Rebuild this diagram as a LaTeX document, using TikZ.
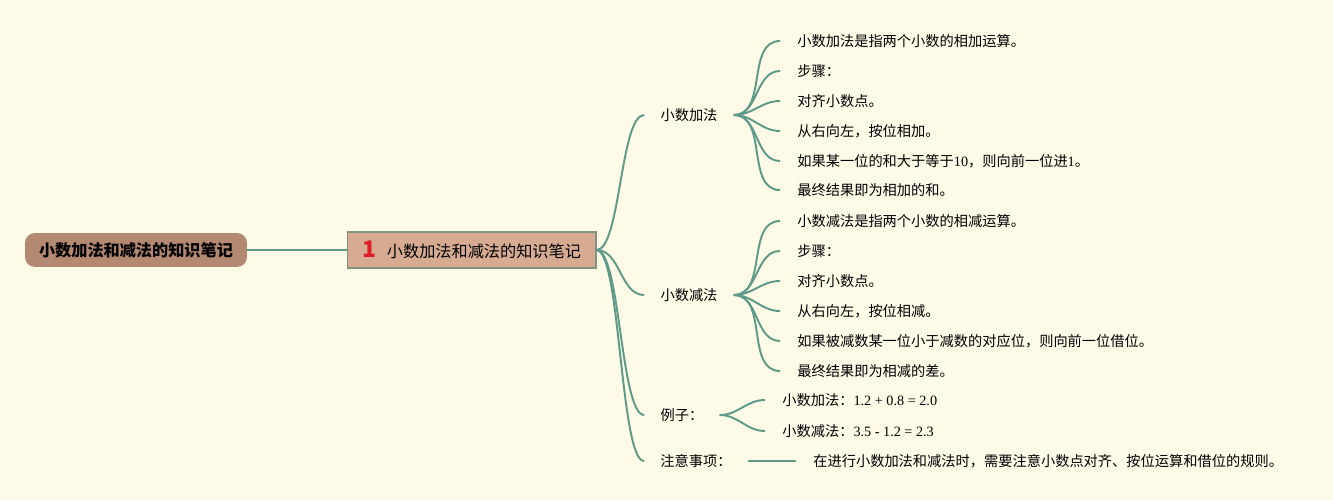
\documentclass[tikz,border=0pt]{standalone}
\usepackage{fontspec}
\setmainfont{Noto Sans CJK SC}
\newfontfamily\numfont{Liberation Serif}
\usepackage{tikz}
\usetikzlibrary{positioning}
\definecolor{paper}{RGB}{254,250,232}
\definecolor{rootBrown}{RGB}{180,137,113}
\definecolor{topicTan}{RGB}{214,171,146}
\definecolor{topicEdge}{RGB}{128,148,132}
\definecolor{branchTeal}{RGB}{94,154,136}
\definecolor{numRed}{RGB}{222,30,40}
\tikzset{
  root/.style={fill=rootBrown,rounded corners=0.2cm,minimum width=4.44cm,minimum height=0.68cm,
               font=\fontsize{9.2}{11}\selectfont\bfseries,inner sep=0pt},
  topic/.style={fill=topicTan,draw=topicEdge,line width=0.6pt,minimum width=4.98cm,
                minimum height=0.72cm,font=\fontsize{9.2}{11}\selectfont,inner sep=0pt},
  branch/.style={font=\fontsize{8.1}{10}\selectfont,inner xsep=0.32cm,inner ysep=2pt},
  leaf/.style={font=\fontsize{8.1}{10}\selectfont,inner xsep=0.34cm,inner ysep=2pt,anchor=west},
  link/.style={draw=branchTeal,line width=1.1pt},
  flow/.style={out=0,in=180},
}

\begin{document}
\begin{tikzpicture}[x=0.02cm,y=-0.02cm]
  \fill[paper] (0,0) rectangle (1333,500);
  \useasboundingbox (0,0) rectangle (1333,500);

  %% ── Title and main topic ────────────────────────────────────────────────
  \node[root]  (title) at (136,250) {小数加法和减法的知识笔记};
  \node[topic] (topic) at (471.5,250)
        {{\color{numRed}\fontsize{13}{13}\selectfont\bfseries 1}\hspace{0.22cm}小数加法和减法的知识笔记};
  \draw[link] (title) -- (topic);

  %% ── Branches ────────────────────────────────────────────────────────────
  \node[branch] (add)  at (689,115) {小数加法};
  \node[branch] (sub)  at (689,295) {小数减法};
  \node[branch] (ex)   at (682,415) {例子：};
  \node[branch] (note) at (696,461) {注意事项：};
  \foreach \b in {add,sub,ex,note}{
    \draw[link] (topic.east) .. controls +(24,0) and +(-24,0) .. (\b.west);
  }

  %% ── Leaves ──────────────────────────────────────────────────────────────
  \foreach \i/\y/\txt in {1/41/{小数加法是指两个小数的相加运算。},
                          2/71/{步骤：},
                          3/101/{对齐小数点。},
                          4/131/{从右向左，按位相加。},
                          5/161/{如果某一位的和大于等于{\numfont 10}，则向前一位进{\numfont 1}。},
                          6/190/{最终结果即为相加的和。}}{
    \node[leaf] (add\i) at (780,\y) {\txt};
    \draw[link] (add.east) to[flow] (add\i.west);
  }
  \foreach \i/\y/\txt in {1/221/{小数减法是指两个小数的相减运算。},
                          2/251/{步骤：},
                          3/281/{对齐小数点。},
                          4/311/{从右向左，按位相减。},
                          5/341/{如果被减数某一位小于减数的对应位，则向前一位借位。},
                          6/371/{最终结果即为相减的差。}}{
    \node[leaf] (sub\i) at (780,\y) {\txt};
    \draw[link] (sub.east) to[flow] (sub\i.west);
  }
  \foreach \i/\y/\txt in {1/400/{小数加法：{\numfont 1.2 + 0.8 = 2.0}},
                          2/431/{小数减法：{\numfont 3.5 - 1.2 = 2.3}}}{
    \node[leaf] (ex\i) at (765,\y) {\txt};
    \draw[link] (ex.east) to[flow] (ex\i.west);
  }
  \node[leaf] (note1) at (796,461) {在进行小数加法和减法时，需要注意小数点对齐、按位运算和借位的规则。};
  \draw[link] (note.east) -- (note1.west);
\end{tikzpicture}
\end{document}
